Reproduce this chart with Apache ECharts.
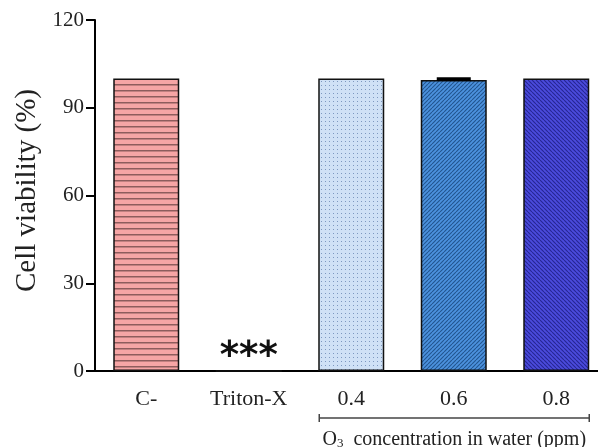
<!DOCTYPE html>
<html><head><meta charset="utf-8">
<script src="https://cdn.jsdelivr.net/npm/echarts@6/dist/echarts.min.js"></script>
<style>html,body{margin:0;padding:0;background:#fff;overflow:hidden;width:598px;height:447px}#c{width:608px;height:447px}</style>
</head><body><div id="c"></div>
<script>
const categories = ['C-', 'Triton-X', '0.4', '0.6', '0.8'];
const viability = [100, 0, 100, 99.45, 100];
const errors = [0, 0, 0, 1.0, 0];
const significance = ['', '***', '', '', ''];
const yTicks = [0, 30, 60, 90, 120];
const groupLabel = 'concentration in water (ppm)';

function tile(w, h, bg, draw) {
  const c = document.createElement('canvas');
  c.width = w; c.height = h;
  const ctx = c.getContext('2d');
  ctx.fillStyle = bg; ctx.fillRect(0, 0, w, h);
  draw(ctx, w, h);
  return { image: c, repeat: 'repeat' };
}
const patHoriz = tile(6, 6, '#f6a5a5', (ctx, w) => { ctx.fillStyle = '#8e5c5c'; ctx.fillRect(0, 0, w, 1.5); });
const patDots = tile(4, 4, '#cfe1f6', (ctx) => { ctx.fillStyle = '#7d98c0'; ctx.fillRect(1, 1, 1, 1); });
function diag(w, bg, fg, lw, dir) {
  return tile(w, w, bg, (ctx) => {
    ctx.strokeStyle = fg; ctx.lineWidth = lw;
    ctx.beginPath();
    for (let k = -1; k <= 1; k++) {
      if (dir === '/') { ctx.moveTo(k * w, w); ctx.lineTo(k * w + w, 0); }
      else { ctx.moveTo(k * w, 0); ctx.lineTo(k * w + w, w); }
    }
    ctx.stroke();
  });
}
const patMid = diag(4, '#4c92de', '#22558f', 1.1, '/');
const patDark = diag(4, '#4b4bdc', '#262692', 1.1, '\\');
const fills = [patHoriz, '#ffffff', patDots, patMid, patDark];

const chart = echarts.init(document.getElementById('c'));
const serif = 'Liberation Serif';
chart.setOption({
  animation: false,
  backgroundColor: '#fff',
  grid: { left: 95, top: 20, right: 0.5, bottom: 76, containLabel: false },
  xAxis: {
    type: 'category', data: categories,
    axisLine: { lineStyle: { color: '#000', width: 2 } },
    axisTick: { alignWithLabel: true, length: 9, lineStyle: { color: '#000', width: 2 } },
    axisLabel: { color: '#222', fontFamily: serif, fontSize: 22, margin: 17 }
  },
  yAxis: {
    type: 'value', min: 0, max: 120, interval: 30,
    splitLine: { show: false },
    axisLine: { show: true, lineStyle: { color: '#000', width: 2 } },
    axisTick: { show: true, length: 9, lineStyle: { color: '#000', width: 2 } },
    axisLabel: { color: '#222', fontFamily: serif, fontSize: 21, margin: 11,
      formatter: v => yTicks.includes(v) ? String(v) : '' },
    name: 'Cell viability (%)', nameLocation: 'middle', nameGap: 45, nameRotate: 90,
    nameTextStyle: { color: '#222', fontFamily: serif, fontSize: 29, padding: [0, 0, 0, 10] }
  },
  series: [{
    type: 'bar', barWidth: 66,
    data: viability.map((v, i) => ({ value: v, itemStyle: { color: fills[i] } })),
    itemStyle: { borderColor: '#111', borderWidth: 1.5 },
    label: {
      show: true, position: 'top', distance: -6,
      formatter: p => significance[p.dataIndex],
      fontFamily: 'DejaVu Sans', fontWeight: 'bold', fontSize: 37, color: '#111'
    }
  }, {
    type: 'custom',
    data: viability.map((v, i) => [i, v, errors[i]]),
    renderItem: (params, api) => {
      const err = api.value(2);
      if (!err) return null;
      const top = api.coord([api.value(0), api.value(1) + err]);
      const base = api.coord([api.value(0), api.value(1)]);
      return { type: 'rect', shape: { x: top[0] - 17, y: top[1], width: 34, height: base[1] - top[1] + 1 },
        style: { fill: '#000' } };
    },
    z: 5
  }]
});

const bw = 66;
const p1 = chart.convertToPixel({ seriesIndex: 0 }, [2, 0]);
const p2 = chart.convertToPixel({ seriesIndex: 0 }, [4, 0]);
const x1 = p1[0] - bw / 2 + 1, x2 = p2[0] + bw / 2, by = p1[1] + 47;
chart.setOption({
  graphic: [
    { type: 'line', shape: { x1: x1, y1: by, x2: x2, y2: by }, style: { stroke: '#444', lineWidth: 1.5 } },
    { type: 'line', shape: { x1: x1, y1: by - 4, x2: x1, y2: by + 4 }, style: { stroke: '#444', lineWidth: 1.5 } },
    { type: 'line', shape: { x1: x2, y1: by - 4, x2: x2, y2: by + 4 }, style: { stroke: '#444', lineWidth: 1.5 } },
    { type: 'text', x: (x1 + x2) / 2, y: by + 20,
      style: { text: '{o|O}{s|3}{o|  ' + groupLabel + '}', align: 'center', verticalAlign: 'middle',
        rich: { o: { fontFamily: serif, fontSize: 20, fill: '#222', verticalAlign: 'bottom', lineHeight: 24 },
                s: { fontFamily: serif, fontSize: 13, fill: '#222', verticalAlign: 'bottom', lineHeight: 17 } } } }
  ]
});
</script></body></html>
